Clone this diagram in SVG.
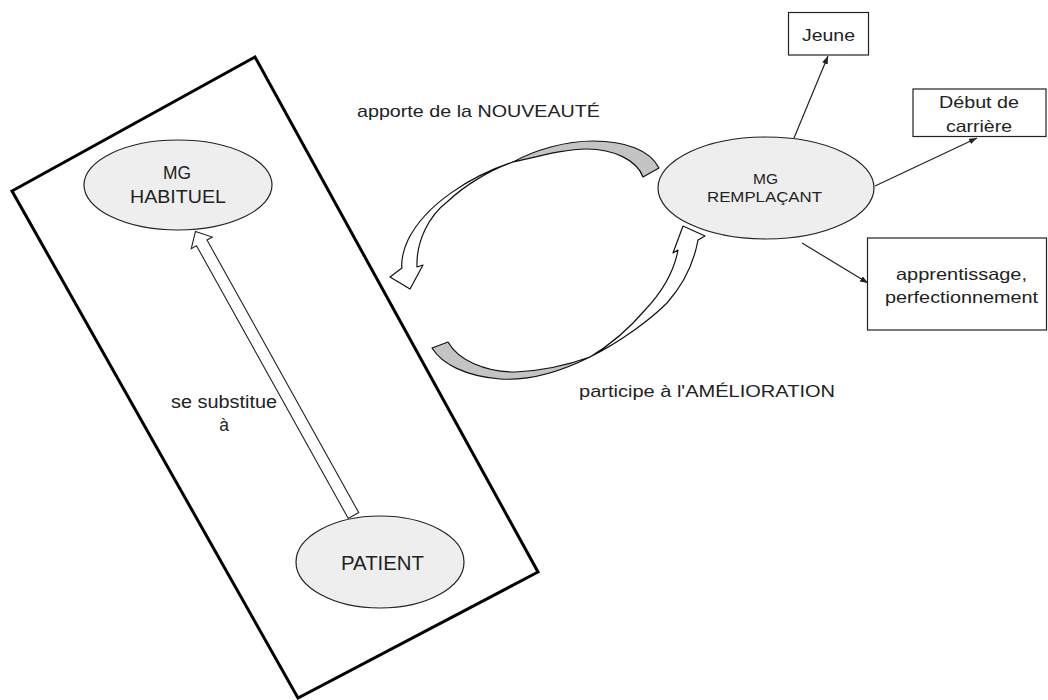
<svg xmlns="http://www.w3.org/2000/svg" width="1048" height="700" viewBox="0 0 1048 700">
  <style>
    .frame { fill: none; stroke: #000; stroke-width: 3; }
    .oval { fill: #eeeeee; stroke: #222; stroke-width: 1.2; }
    .box { fill: #fff; stroke: #222; stroke-width: 1.2; }
    .lbl { font-family: "Liberation Sans", Arial, sans-serif; fill: #222; }
    .link { fill: none; stroke: #222; stroke-width: 1.2; }
    .ribbon { fill: #fff; stroke: #111; stroke-width: 1.2; stroke-linejoin: round; }
    .under { fill: #c4c4c4; stroke: #111; stroke-width: 1.2; stroke-linejoin: round; }
    .block { fill: #fff; stroke: #222; stroke-width: 1.1; stroke-linejoin: miter; }
  </style>
  <defs>
    <marker id="tip" markerUnits="userSpaceOnUse" markerWidth="9" markerHeight="7" refX="8" refY="3" orient="auto">
      <path d="M0,0 L8,3 L0,6 Z" fill="#222"/>
    </marker>
  </defs>
  <rect width="1048" height="700" fill="#fff"/>

  <!-- tilted frame around the practice -->
  <g id="cabinet">
    <polygon class="frame" points="255,57 538,572 298,698 12,191"/>
  </g>

  <!-- connectors -->
  <g id="connectors">
    <!-- substitution block arrow, patient -> usual GP -->
    <g id="substitue" transform="translate(353.5,515.5) rotate(-119.1)">
      <path class="block" d="M0,-6 L312,-6 L312,-12 L325,0 L312,12 L312,6 L0,6 Z"/>
    </g>
    <!-- curved arrow: novelty brought to the practice -->
    <g id="nouveaute">
      <path class="under" d="M659,168 C650,150 625,141 593,141 C565,141 535,150 513,162 C540,156 565,149 587,149 C613,149 637,160 643,177 Z"/>
      <path class="ribbon" d="M513,162 C470,176 425,205 408,240 C403,250 401,262 402,268 L390,277 L410,289 L423,265 L417,267 C416,240 430,215 447,202 C465,185 490,170 513,162 Z"/>
    </g>
    <!-- curved arrow: improvement back to the locum -->
    <g id="amelioration">
      <path class="under" d="M432,348 C442,364 465,376 500,379 C530,381 560,372 590,357 C565,366 540,371 515,372 C485,372 458,360 448,342 Z"/>
      <path class="ribbon" d="M590,357 C620,342 650,320 667,303 C683,285 694,262 698,240 L705,236 L683,226 L673,253 L678,250 C674,272 662,292 645,310 C628,330 610,345 590,357 Z"/>
    </g>
    <line class="link" x1="794" y1="138" x2="828" y2="56" marker-end="url(#tip)"/>
    <line class="link" x1="875" y1="186" x2="977" y2="138" marker-end="url(#tip)"/>
    <line class="link" x1="802" y1="243" x2="868" y2="283" marker-end="url(#tip)"/>
  </g>

  <!-- connector labels -->
  <g id="labels">
    <text class="lbl" x="357" y="117" font-size="17" textLength="243" lengthAdjust="spacingAndGlyphs">apporte de la NOUVEAUTÉ</text>
    <text class="lbl" x="579" y="397" font-size="17" textLength="256" lengthAdjust="spacingAndGlyphs">participe à l'AMÉLIORATION</text>
    <text class="lbl" x="171" y="408" font-size="17.5" textLength="106" lengthAdjust="spacingAndGlyphs">se substitue</text>
    <text class="lbl" x="224" y="431" font-size="17.5" text-anchor="middle">à</text>
  </g>

  <g id="mg-habituel">
    <ellipse class="oval" cx="178" cy="185" rx="94" ry="45"/>
    <text class="lbl" x="163" y="179" font-size="17.5" textLength="28" lengthAdjust="spacingAndGlyphs">MG</text>
    <text class="lbl" x="130" y="203" font-size="17.5" textLength="96" lengthAdjust="spacingAndGlyphs">HABITUEL</text>
  </g>

  <g id="patient">
    <ellipse class="oval" cx="380" cy="562" rx="84" ry="46"/>
    <text class="lbl" x="341" y="570" font-size="20" textLength="83" lengthAdjust="spacingAndGlyphs">PATIENT</text>
  </g>

  <g id="mg-remplacant">
    <ellipse class="oval" cx="766" cy="188" rx="108" ry="51"/>
    <text class="lbl" x="753" y="184" font-size="15" textLength="25" lengthAdjust="spacingAndGlyphs">MG</text>
    <text class="lbl" x="707" y="202" font-size="15" textLength="115" lengthAdjust="spacingAndGlyphs">REMPLAÇANT</text>
  </g>

  <g id="jeune">
    <rect class="box" x="788.5" y="12.5" width="80" height="42.5"/>
    <text class="lbl" x="802" y="41" font-size="16.5" textLength="53" lengthAdjust="spacingAndGlyphs">Jeune</text>
  </g>

  <g id="debut-carriere">
    <rect class="box" x="913" y="89" width="133" height="47.5"/>
    <text class="lbl" x="939" y="108" font-size="16.5" textLength="80" lengthAdjust="spacingAndGlyphs">Début de</text>
    <text class="lbl" x="946" y="132" font-size="16.5" textLength="66" lengthAdjust="spacingAndGlyphs">carrière</text>
  </g>

  <g id="apprentissage">
    <rect class="box" x="867.5" y="238" width="179" height="92"/>
    <text class="lbl" x="896" y="280" font-size="16.5" textLength="131" lengthAdjust="spacingAndGlyphs">apprentissage,</text>
    <text class="lbl" x="885" y="303" font-size="16.5" textLength="153" lengthAdjust="spacingAndGlyphs">perfectionnement</text>
  </g>
</svg>
